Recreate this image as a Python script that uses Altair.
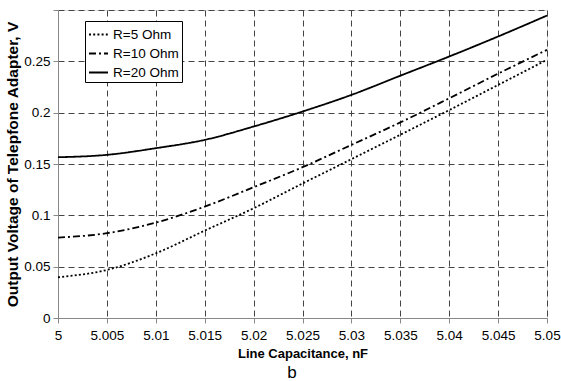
import altair as alt
import pandas as pd

cap = [5.0, 5.005, 5.01, 5.015, 5.02, 5.025, 5.03, 5.035, 5.04, 5.045, 5.05]
r5 = [0.0397, 0.0468, 0.0630, 0.0851, 0.1069, 0.1310, 0.1547, 0.1785, 0.2025, 0.2270, 0.2515]
r10 = [0.0783, 0.0826, 0.0929, 0.1085, 0.1274, 0.1469, 0.1686, 0.1905, 0.2140, 0.2380, 0.2612]
r20 = [0.1566, 0.1589, 0.1654, 0.1735, 0.1865, 0.2011, 0.2173, 0.2360, 0.2547, 0.2742, 0.2946]
series = ["R=5 Ohm", "R=10 Ohm", "R=20 Ohm"]
x_ticks = [5.0, 5.005, 5.01, 5.015, 5.02, 5.025, 5.03, 5.035, 5.04, 5.045, 5.05]
y_ticks = [0, 0.05, 0.1, 0.15, 0.2, 0.25, 0.3]

rows = []
for name, vals in zip(series, [r5, r10, r20]):
    for c, v in zip(cap, vals):
        rows.append({"cap": c, "v": v, "series": name})
df = pd.DataFrame(rows)

FONT = "Liberation Sans"
GRID = dict(grid=True, gridColor="#444444", gridDash=[6, 4], gridWidth=1, gridOpacity=1)

lines = alt.Chart(df).mark_line(color="black", strokeWidth=1.8, interpolate="monotone", strokeCap="butt").encode(
    x=alt.X("cap:Q", scale=alt.Scale(domain=[5.0, 5.05], nice=False, zero=False),
            axis=alt.Axis(values=x_ticks, format="~g", title="Line Capacitance, nF",
                          titleFontSize=13, titleFontWeight="bold", titleFont=FONT,
                          titlePadding=6, labelPadding=5, labelFontSize=13.5,
                          labelFlush=False, labelOverlap=False, **GRID)),
    y=alt.Y("v:Q", scale=alt.Scale(domain=[0, 0.3], nice=False),
            axis=alt.Axis(values=y_ticks, format="~g",
                          labelExpr="datum.value >= 0.299 ? '' : datum.label",
                          title="Output Voltage of Telepfone Adapter, V",
                          titleFontSize=15.5, titleFontWeight="bold", titleFont=FONT,
                          titlePadding=3, labelPadding=3, labelFontSize=13.5,
                          labelFlush=False, labelOverlap=False, **GRID)),
    strokeDash=alt.StrokeDash("series:N",
                              scale=alt.Scale(domain=series, range=[[2, 2.2], [7, 3, 2, 3], [1, 0]]),
                              sort=series,
                              legend=alt.Legend(title=None, orient="none", legendX=27, legendY=11,
                                                symbolType="stroke", symbolSize=361,
                                                symbolStrokeColor="black", symbolStrokeWidth=1.8,
                                                labelFontSize=13.5, labelFont=FONT, labelColor="black",
                                                labelOffset=4, rowPadding=2, padding=3,
                                                strokeColor="black", fillColor="white")),
)

blabel = pd.DataFrame({"t": ["b"]})
btext = alt.Chart(blabel).mark_text(font=FONT, fontSize=17, color="black", baseline="alphabetic").encode(
    text="t:N", x=alt.value(234), y=alt.value(368)
)

chart = alt.layer(lines, btext).properties(
    width=489, height=308,
    autosize=alt.AutoSizeParams(type="none"),
    padding={"left": 58, "top": 10, "right": 14, "bottom": 63},
).configure_view(stroke="black", strokeWidth=1.5).configure_axis(
    domain=True, domainColor="black", domainWidth=1.5, ticks=False,
    labelFont=FONT, labelColor="black", titleColor="black",
).configure(background="white")

chart.save("out.html", embed_options={"renderer": "svg", "actions": False})
